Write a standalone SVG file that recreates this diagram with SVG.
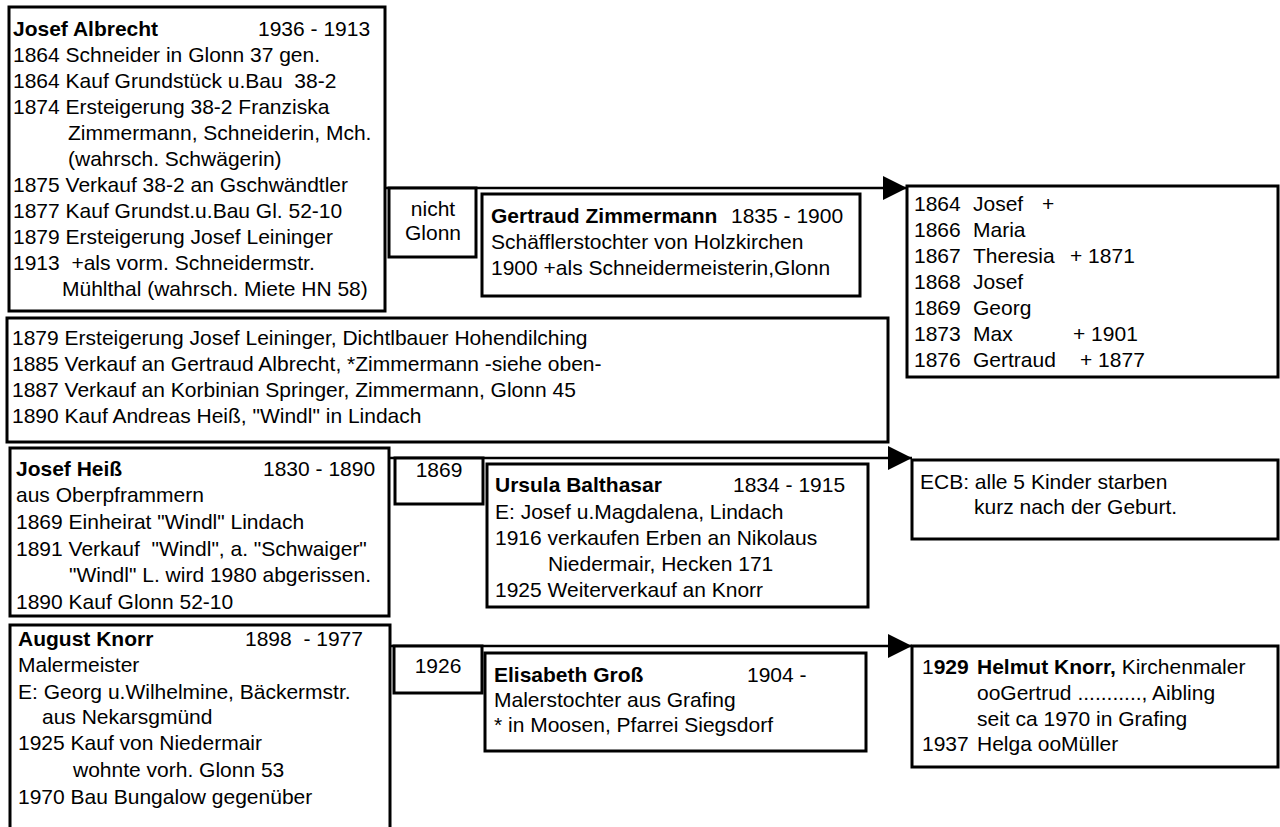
<svg xmlns="http://www.w3.org/2000/svg" width="1280" height="827" viewBox="0 0 1280 827">
<style>
text{font-family:"Liberation Sans",Arial,sans-serif;font-size:21px;fill:#000;white-space:pre}
.b{font-weight:bold}
.c{text-anchor:middle}
rect{fill:#fff;stroke:#000;stroke-width:3}
.ln{stroke:#000;stroke-width:2.5;fill:none}
</style>
<defs>
<marker id="ah" markerUnits="userSpaceOnUse" markerWidth="25" markerHeight="24" refX="24" refY="12" orient="auto">
<path d="M0,0 L24,12 L0,24 Z" fill="#000"/>
</marker>
</defs>
<rect x="0" y="0" width="1280" height="827" style="stroke:none"/>
<g id="connectors">
<line class="ln" x1="386" y1="188" x2="907" y2="188" marker-end="url(#ah)"/>
<line class="ln" x1="389" y1="458" x2="912" y2="458" marker-end="url(#ah)"/>
<line class="ln" x1="390" y1="646" x2="912" y2="646" marker-end="url(#ah)"/>
</g>
<g id="josef-albrecht">
<rect x="9" y="7" width="376" height="304"/>
<text x="13" y="36"><tspan class="b">Josef Albrecht</tspan></text>
<text x="258" y="36">1936 - 1913</text>
<text x="13" y="62">1864 Schneider in Glonn 37 gen.</text>
<text x="13" y="88">1864 Kauf Grundstück u.Bau  38-2</text>
<text x="13" y="114">1874 Ersteigerung 38-2 Franziska</text>
<text x="68" y="140">Zimmermann, Schneiderin, Mch.</text>
<text x="68" y="166">(wahrsch. Schwägerin)</text>
<text x="13" y="192">1875 Verkauf 38-2 an Gschwändtler</text>
<text x="13" y="218">1877 Kauf Grundst.u.Bau Gl. 52-10</text>
<text x="13" y="244">1879 Ersteigerung Josef Leininger</text>
<text x="13" y="270">1913  +als vorm. Schneidermstr.</text>
<text x="62" y="296">Mühlthal (wahrsch. Miete HN 58)</text>
</g>
<g id="nicht-glonn">
<rect x="389" y="188" width="87" height="69"/>
<text class="c" x="433" y="216">nicht</text>
<text class="c" x="433" y="240">Glonn</text>
</g>
<g id="gertraud-zimmermann">
<rect x="482" y="194" width="378" height="102"/>
<text class="b" x="491" y="223">Gertraud Zimmermann</text>
<text x="731" y="223">1835 - 1900</text>
<text x="491" y="249">Schäfflerstochter von Holzkirchen</text>
<text x="491" y="275">1900 +als Schneidermeisterin,Glonn</text>
</g>
<g id="kinder-albrecht">
<rect x="907" y="186" width="371" height="191"/>
<text x="914" y="211">1864</text><text x="973" y="211">Josef</text><text x="1042" y="211">+</text>
<text x="914" y="237">1866</text><text x="973" y="237">Maria</text>
<text x="914" y="263">1867</text><text x="973" y="263">Theresia</text><text x="1070" y="263">+ 1871</text>
<text x="914" y="289">1868</text><text x="973" y="289">Josef</text>
<text x="914" y="315">1869</text><text x="973" y="315">Georg</text>
<text x="914" y="341">1873</text><text x="973" y="341">Max</text><text x="1073" y="341">+ 1901</text>
<text x="914" y="367">1876</text><text x="973" y="367">Gertraud</text><text x="1080" y="367">+ 1877</text>
</g>
<g id="haus-chronik">
<rect x="7" y="318" width="881" height="124"/>
<text x="12" y="345">1879 Ersteigerung Josef Leininger, Dichtlbauer Hohendilching</text>
<text x="12" y="371">1885 Verkauf an Gertraud Albrecht, *Zimmermann -siehe oben-</text>
<text x="12" y="397">1887 Verkauf an Korbinian Springer, Zimmermann, Glonn 45</text>
<text x="12" y="423">1890 Kauf Andreas Heiß, "Windl" in Lindach</text>
</g>
<g id="josef-heiss">
<rect x="10" y="448" width="379" height="168"/>
<text class="b" x="16" y="476">Josef Heiß</text>
<text x="263" y="476">1830 - 1890</text>
<text x="16" y="502">aus Oberpframmern</text>
<text x="16" y="529">1869 Einheirat "Windl" Lindach</text>
<text x="16" y="556">1891 Verkauf  "Windl", a. "Schwaiger"</text>
<text x="69" y="582">"Windl" L. wird 1980 abgerissen.</text>
<text x="16" y="609">1890 Kauf Glonn 52-10</text>
</g>
<g id="jahr-1869">
<rect x="395" y="458" width="88" height="46"/>
<text class="c" x="439" y="477">1869</text>
</g>
<g id="ursula-balthasar">
<rect x="487" y="464" width="381" height="143"/>
<text class="b" x="495" y="492">Ursula Balthasar</text>
<text x="733" y="492">1834 - 1915</text>
<text x="495" y="519">E: Josef u.Magdalena, Lindach</text>
<text x="495" y="545">1916 verkaufen Erben an Nikolaus</text>
<text x="548" y="571">Niedermair, Hecken 171</text>
<text x="495" y="597">1925 Weiterverkauf an Knorr</text>
</g>
<g id="ecb">
<rect x="912" y="460" width="366" height="79"/>
<text x="920" y="489">ECB: alle 5 Kinder starben</text>
<text x="974" y="514">kurz nach der Geburt.</text>
</g>
<g id="august-knorr">
<rect x="10" y="625" width="380" height="230"/>
<text class="b" x="18" y="646">August Knorr</text>
<text x="245" y="646">1898  - 1977</text>
<text x="18" y="672">Malermeister</text>
<text x="18" y="699">E: Georg u.Wilhelmine, Bäckermstr.</text>
<text x="42" y="724">aus Nekarsgmünd</text>
<text x="18" y="750">1925 Kauf von Niedermair</text>
<text x="73" y="777">wohnte vorh. Glonn 53</text>
<text x="18" y="804">1970 Bau Bungalow gegenüber</text>
</g>
<g id="jahr-1926">
<rect x="394" y="646" width="88" height="47"/>
<text class="c" x="438" y="673">1926</text>
</g>
<g id="elisabeth-gross">
<rect x="485" y="653" width="381" height="98"/>
<text class="b" x="494" y="682">Elisabeth Groß</text>
<text x="747" y="682">1904 -</text>
<text x="494" y="707">Malerstochter aus Grafing</text>
<text x="494" y="732">* in Moosen, Pfarrei Siegsdorf</text>
</g>
<g id="helmut-knorr">
<rect x="912" y="646" width="366" height="121"/>
<text x="922" y="674">1<tspan class="b">929</tspan></text>
<text x="977" y="674"><tspan class="b">Helmut Knorr,</tspan> Kirchenmaler</text>
<text x="977" y="700">ooGertrud ..........., Aibling</text>
<text x="977" y="726">seit ca 1970 in Grafing</text>
<text x="922" y="751">1937</text><text x="977" y="751">Helga ooMüller</text>
</g>
</svg>
